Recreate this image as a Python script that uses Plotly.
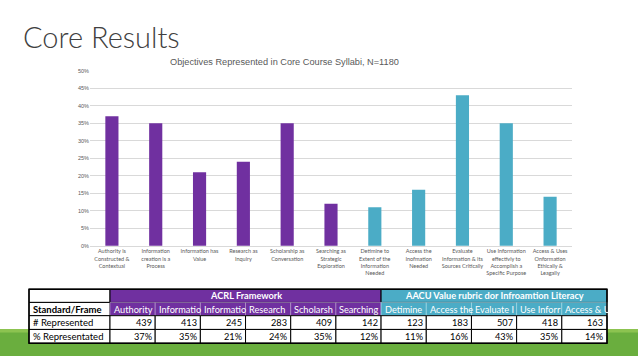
import plotly.graph_objects as go

W, H = 638, 359

categories = [
    "Authority is<br>Constructed &<br>Contextual",
    "Information<br>creation is a<br>Process",
    "Information has<br>Value",
    "Research as<br>Inquiry",
    "Scholarship as<br>Conversation",
    "Searching as<br>Strategic<br>Exploration",
    "Detimine to<br>Extent of the<br>Information<br>Needed",
    "Access the<br>Inofmation<br>Needed",
    "Evaluate<br>Information & its<br>Sources Critically",
    "Use Information<br>effectivly to<br>Accomplish a<br>Specific Purpose",
    "Access & Uses<br>Onformation<br>Ethically &<br>Leagally",
]
groups = ["ACRL"] * 6 + ["AACU"] * 5
pct_values = [37, 35, 21, 24, 35, 12, 11, 16, 43, 35, 14]
counts = [439, 413, 245, 283, 409, 142, 123, 183, 507, 418, 163]
col_headers = ["Authority", "Informatio", "Informatio", "Research", "Scholarsh", "Searching",
               "Detimine", "Access the", "Evaluate I", "Use Inforr", "Access & U"]
tick_vals = [0, 5, 10, 15, 20, 25, 30, 35, 40, 45, 50]
tick_text = [f"{v}%" for v in tick_vals]

PURPLE = "#7030A0"
TEAL = "#4BACC6"
colors = [PURPLE if g == "ACRL" else TEAL for g in groups]

def px(x):
    return x / W

def py(y):
    return 1 - y / H

fig = go.Figure()
fig.add_trace(go.Bar(
    x=list(range(len(categories))), y=pct_values, marker_color=colors,
    marker_line_width=0, width=0.3, hoverinfo="skip"
))

shapes = []
annotations = []

# green band at bottom
shapes.append(dict(type="rect", xref="paper", yref="paper", x0=0, x1=1, y0=0, y1=py(332),
                   fillcolor="#6AAE3E", line_width=0, layer="below"))
shapes.append(dict(type="rect", xref="paper", yref="paper", x0=0, x1=1, y0=py(335), y1=py(331.5),
                   fillcolor="#8CC350", line_width=0, layer="below"))

# table geometry
tx0, tx1 = 29, 110
tx_end = 607
ncol = len(counts)
cw = (tx_end - tx1) / ncol
rows = [291, 304.5, 318, 332, 346]
FS = 9.2

def rect(x0, x1, y0, y1, fill, line="black", lw=1):
    shapes.append(dict(type="rect", xref="paper", yref="paper",
                       x0=px(x0), x1=px(x1), y0=py(y1), y1=py(y0),
                       fillcolor=fill, line=dict(color=line, width=lw), layer="above"))

def text(x, y, s, color="black", size=FS, bold=False, anchor="center"):
    if bold:
        s = f"<b>{s}</b>"
    annotations.append(dict(xref="paper", yref="paper", x=px(x), y=py(y), text=s,
                            showarrow=False, xanchor=anchor, yanchor="middle",
                            font=dict(family="Lato", size=size, color=color)))

rect(tx0, tx_end, rows[0], rows[4], "white", lw=0)
# row 0
rect(tx0, tx1, rows[0], rows[1], "white")
acrl_end = tx1 + cw * 6
rect(tx1, acrl_end, rows[0], rows[1], PURPLE)
rect(acrl_end, tx_end, rows[0], rows[1], TEAL)
text((tx1 + acrl_end) / 2, (rows[0] + rows[1]) / 2, "ACRL Framework", "white", FS, True)
text((acrl_end + tx_end) / 2, (rows[0] + rows[1]) / 2,
     "AACU Value rubric dor Infroamtion Literacy", "white", FS, True)
# row 1 header
rect(tx0, tx1, rows[1], rows[2], "white")
text(tx0 + 2, (rows[1] + rows[2]) / 2, "Standard/Frame", "black", FS + 0.3, True, "left")
for i in range(ncol):
    x0 = tx1 + cw * i
    rect(x0, x0 + cw, rows[1], rows[2], colors[i],
         line="#B9A0CC" if groups[i] == "ACRL" else "#A8DCEA", lw=0.6)
    text(x0 + 1.5, (rows[1] + rows[2]) / 2, col_headers[i], "white", FS, False, "left")
# data rows
labels = ["# Represented", "% Representated"]
vals = [[str(c) for c in counts], [f"{p}%" for p in pct_values]]
for r in range(2):
    y0, y1 = rows[2 + r], rows[3 + r]
    rect(tx0, tx1, y0, y1, "white")
    text(tx0 + 2, (y0 + y1) / 2, labels[r], "black", FS + 0.3, False, "left")
    for i in range(ncol):
        x0 = tx1 + cw * i
        rect(x0, x0 + cw, y0, y1, "white")
        text(x0 + cw - 1.5, (y0 + y1) / 2, vals[r][i], "black", FS, False, "right")
shapes.append(dict(type="rect", xref="paper", yref="paper", x0=px(tx0), x1=px(tx_end),
                   y0=py(rows[4]), y1=py(rows[0]), line=dict(color="black", width=1.5),
                   fillcolor="rgba(0,0,0,0)", layer="above"))

# slide title
annotations.append(dict(xref="paper", yref="paper", x=px(21), y=py(34), text="Core Results",
                        showarrow=False, xanchor="left", yanchor="middle",
                        font=dict(family="Lato", size=29, color="#404040", weight=300)))
# chart title
annotations.append(dict(xref="paper", yref="paper", x=px(284), y=py(60),
                        text="Objectives Represented in Core Course Syllabi, N=1180",
                        showarrow=False, xanchor="center", yanchor="middle",
                        font=dict(family="Liberation Sans", size=9.2, color="#595959")))

fig.update_layout(
    width=W, height=H, margin=dict(l=0, r=0, t=0, b=0),
    paper_bgcolor="white", plot_bgcolor="white", showlegend=False,
    shapes=shapes, annotations=annotations,
    xaxis=dict(domain=[px(90), px(572)], range=[-0.5, 10.5], tickmode="array",
               tickvals=list(range(len(categories))), ticktext=categories,
               tickfont=dict(family="Lato", size=5.5, color="#595959"),
               tickangle=0, showgrid=False, showline=True, linecolor="#D9D9D9",
               ticks="", fixedrange=True),
    yaxis=dict(domain=[py(247), py(69)], range=[0, 50], tickmode="array",
               tickvals=tick_vals, ticktext=tick_text,
               tickfont=dict(family="Liberation Sans", size=5.5, color="#595959"),
               showgrid=True, gridcolor="#D9D9D9", gridwidth=1, zeroline=False,
               ticks="", fixedrange=True),
)

fig.write_html("out.html", config={"displayModeBar": False},
               post_script="document.body.style.margin='0';document.body.style.overflow='hidden';")
